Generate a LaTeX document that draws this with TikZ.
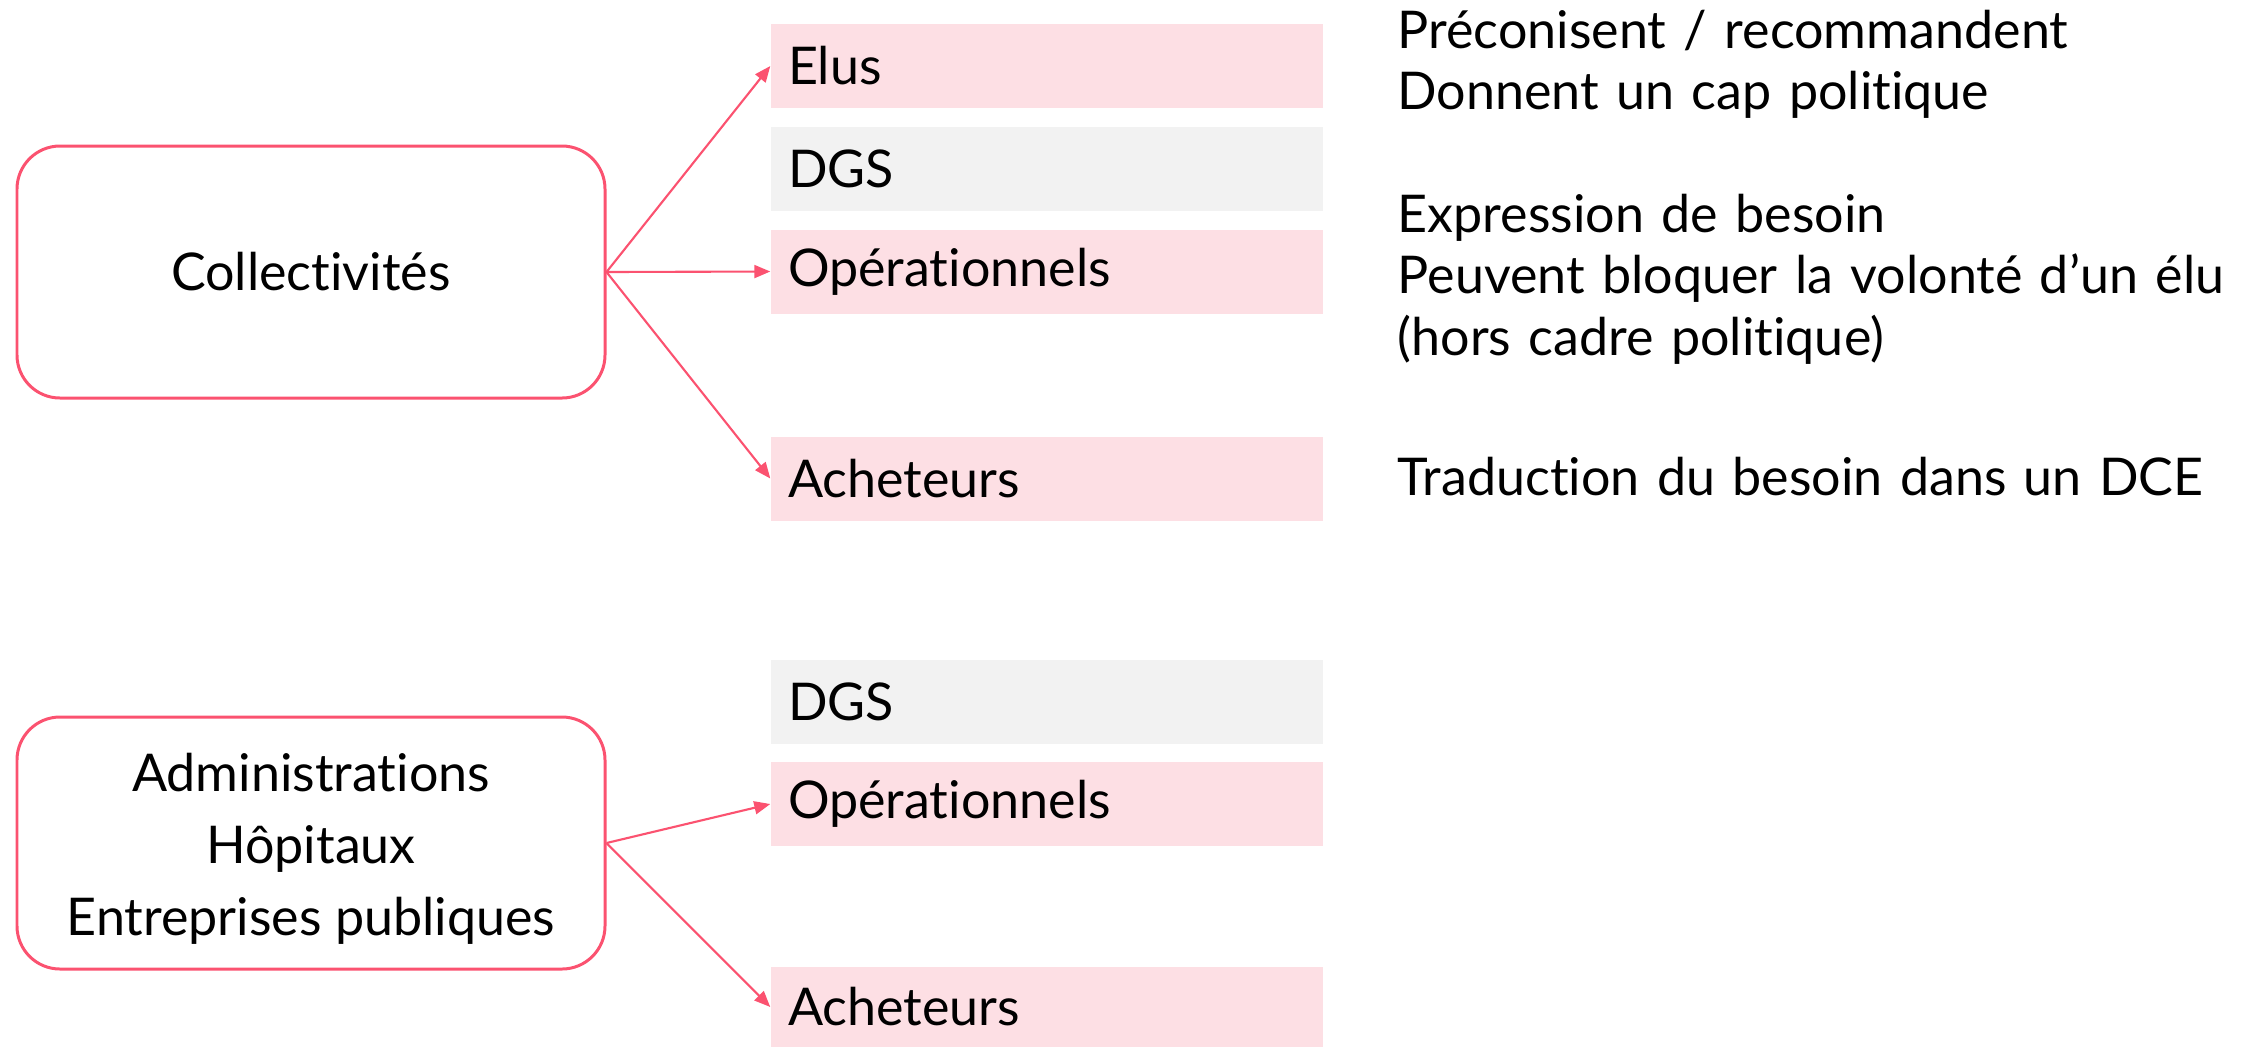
\documentclass[tikz,border=0pt]{standalone}
\usepackage{fontspec}
\setmainfont{Lato}[Ligatures={NoCommon,NoContextual,NoRare}]
\usepackage{xcolor}
\usepackage{tikz}
\usetikzlibrary{arrows.meta,positioning}

\definecolor{pinkline}{RGB}{251,82,112}
\definecolor{pinkfill}{RGB}{253,223,228}
\definecolor{greyfill}{RGB}{242,242,242}
% break the t-i ligature of Lato
\newcommand{\nolig}{\kern0pt}

\begin{document}
\begin{tikzpicture}[
  every node/.style={font=\fontsize{14.8}{17.6}\selectfont},
  org/.style={draw=pinkline, line width=0.85pt, rounded corners=0.43cm,
              minimum width=5.88cm, minimum height=2.52cm, align=center},
  role/.style={rectangle, minimum height=0.84cm, text width=5.18cm,
               inner xsep=0.17cm, inner ysep=0pt, align=left},
  pinkrole/.style={role, fill=pinkfill},
  greyrole/.style={role, fill=greyfill},
  note/.style={anchor=base west, inner sep=0pt, text width=8.4cm, align=left},
  link/.style={draw=pinkline, line width=0.6pt,
               -{Triangle[length=0.16cm,width=0.13cm]}}
]
\useasboundingbox (0,0) rectangle (22.49,-10.47);

%% Collectivites
\node[org] (coll) at (3.11,-2.72) {Collect\nolig ivités};
\node[pinkrole] (elus1) at (10.47,-0.66) {Elus};
\node[greyrole] (dgs1)  at (10.47,-1.69) {DGS};
\node[pinkrole] (ope1)  at (10.47,-2.715) {Opérat\nolig ionnels};
\node[pinkrole] (ach1)  at (10.47,-4.785) {Acheteurs};
\draw[link] (coll.east) -- (elus1.west);
\draw[link] (coll.east) -- (ope1.west);
\draw[link] (coll.east) -- (ach1.west);

%% Notes
\node[note] (n1) at (13.97,-0.48) {Préconisent / recommandent\\Donnent un cap polit\nolig ique};
\node[note] (n2) at (13.97,-2.32) {Expression de besoin\\Peuvent bloquer la volonté d’un élu\\(hors cadre polit\nolig ique)};
\node[note] (n3) at (13.97,-4.95) {Traduction du besoin dans un DCE};

%% Administrations
\node[org, font=\fontsize{14.8}{20.5}\selectfont] (admin) at (3.11,-8.43)
    {\parbox{5.6cm}{\centering\vspace{0.12cm}Administrat\nolig ions\\Hôpitaux\\Entreprises publiques}};
\node[greyrole] (dgs2) at (10.47,-7.015) {DGS};
\node[pinkrole] (ope2) at (10.47,-8.04) {Opérat\nolig ionnels};
\node[pinkrole, minimum height=0.8cm] (ach2) at (10.47,-10.07) {Acheteurs};
\draw[link] (admin.east) -- (ope2.west);
\draw[link] (admin.east) -- (ach2.west);
\end{tikzpicture}
\end{document}
